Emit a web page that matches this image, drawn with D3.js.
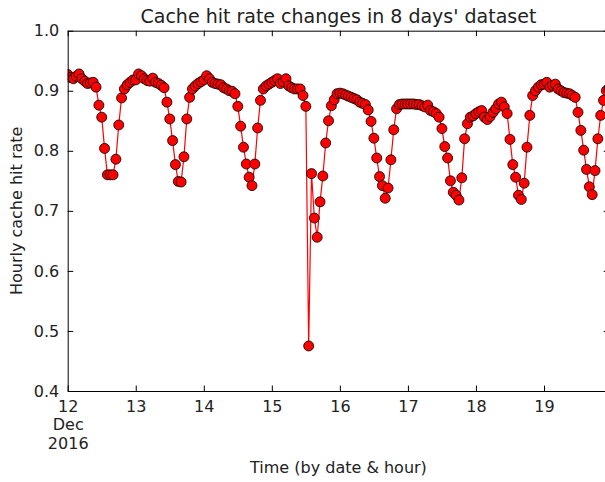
<!DOCTYPE html>
<html>
<head>
<meta charset="utf-8">
<script src="https://cdn.jsdelivr.net/npm/d3@7"></script>
<style>
  body { margin: 0; background: #fff; }
  svg { display: block; font-family: "DejaVu Sans", sans-serif; }
</style>
</head>
<body>
<svg width="605" height="482"></svg>
<script>
// hourly cache hit rate, one array per day (00:00 .. 23:00)
var dec12 = [0.927, 0.922, 0.920, 0.924, 0.928, 0.920, 0.916, 0.912, 0.913, 0.914, 0.906, 0.876,
             0.856, 0.804, 0.760, 0.760, 0.760, 0.786, 0.843, 0.888, 0.903, 0.910, 0.914, 0.918];
var dec13 = [0.918, 0.928, 0.925, 0.920, 0.917, 0.916, 0.921, 0.914, 0.912, 0.909, 0.905, 0.881,
             0.853, 0.817, 0.777, 0.749, 0.748, 0.790, 0.853, 0.889, 0.903, 0.908, 0.912, 0.915];
var dec14 = [0.918, 0.925, 0.920, 0.914, 0.912, 0.911, 0.910, 0.905, 0.903, 0.900, 0.899, 0.895,
             0.874, 0.841, 0.806, 0.778, 0.756, 0.742, 0.778, 0.838, 0.884, 0.903, 0.908, 0.911];
var dec15 = [0.914, 0.917, 0.920, 0.912, 0.915, 0.920, 0.908, 0.905, 0.903, 0.903, 0.903, 0.892,
             0.874, 0.475, 0.762, 0.688, 0.656, 0.715, 0.758, 0.813, 0.850, 0.875, 0.885, 0.895];
var dec16 = [0.896, 0.895, 0.893, 0.891, 0.889, 0.887, 0.885, 0.881, 0.879, 0.877, 0.868, 0.849,
             0.821, 0.788, 0.757, 0.742, 0.721, 0.738, 0.785, 0.835, 0.870, 0.877, 0.878, 0.878];
var dec17 = [0.878, 0.878, 0.878, 0.877, 0.877, 0.875, 0.873, 0.876, 0.867, 0.865, 0.862, 0.856,
             0.837, 0.807, 0.788, 0.750, 0.731, 0.726, 0.718, 0.755, 0.820, 0.845, 0.856, 0.858];
var dec18 = [0.862, 0.865, 0.867, 0.856, 0.852, 0.857, 0.864, 0.870, 0.878, 0.881, 0.873, 0.862,
             0.819, 0.777, 0.756, 0.726, 0.719, 0.746, 0.806, 0.859, 0.892, 0.900, 0.906, 0.910];
var dec19 = [0.911, 0.914, 0.906, 0.909, 0.911, 0.903, 0.900, 0.897, 0.896, 0.895, 0.892, 0.889,
             0.864, 0.834, 0.801, 0.769, 0.740, 0.727, 0.767, 0.820, 0.859, 0.884, 0.900, 0.905];

var yTicks = [0.4, 0.5, 0.6, 0.7, 0.8, 0.9, 1.0];
var title = "Cache hit rate changes in 8 days' dataset";
var xTitle = "Time (by date & hour)";
var yTitle = "Hourly cache hit rate";

var days = [dec12, dec13, dec14, dec15, dec16, dec17, dec18, dec19];
var start = new Date(2016, 11, 12);

var data = [];
days.forEach(function(day, i) {
  day.forEach(function(v, h) {
    data.push({ date: d3.timeHour.offset(start, i * 24 + h), rate: v });
  });
});

var margins = { top: 30.7, right: 605 - 609.2, bottom: 482 - 391, left: 67.7 },
    width = 609.2 - 67.7,
    height = 391 - 30.7;

var svg = d3.select('svg');
var g = svg.append('g')
  .attr('transform', 'translate(' + margins.left + ',' + margins.top + ')');

var x = d3.scaleTime()
  .domain(d3.extent(data, function(d) { return d.date; }))
  .range([0, width]);
var y = d3.scaleLinear().domain([0.4, 1.0]).range([height, 0]);

svg.append('defs').append('clipPath').attr('id', 'plot')
  .append('rect').attr('width', width).attr('height', height);

var line = d3.line()
  .x(function(d) { return x(d.date); })
  .y(function(d) { return y(d.rate); });

var plot = g.append('g').attr('clip-path', 'url(#plot)');

plot.append('path')
  .datum(data)
  .attr('d', line)
  .attr('fill', 'none')
  .attr('stroke', '#ff0000')
  .attr('stroke-width', 1.2);

plot.selectAll('circle')
  .data(data)
  .enter().append('circle')
  .attr('cx', function(d) { return x(d.date); })
  .attr('cy', function(d) { return y(d.rate); })
  .attr('r', 5)
  .attr('fill', '#ff0000')
  .attr('stroke', '#000')
  .attr('stroke-width', 0.8);

var dayTicks = d3.timeDay.range(start, d3.timeDay.offset(start, 8));
var tickLen = -5.5;

// axes, ticks pointing inwards like the classic matplotlib style
var xAxis = g.append('g')
  .attr('transform', 'translate(0,' + height + ')')
  .call(d3.axisBottom(x).tickValues(dayTicks).tickFormat(d3.timeFormat('%-d'))
    .tickSizeInner(tickLen).tickSizeOuter(0).tickPadding(9.5));

g.append('g')
  .call(d3.axisTop(x).tickValues(dayTicks).tickFormat('')
    .tickSizeInner(tickLen).tickSizeOuter(0));

g.append('g')
  .call(d3.axisLeft(y).tickValues(yTicks).tickFormat(d3.format('.1f'))
    .tickSizeInner(tickLen).tickSizeOuter(0).tickPadding(8.4));

g.append('g')
  .attr('transform', 'translate(' + width + ',0)')
  .call(d3.axisRight(y).tickValues(yTicks).tickFormat('')
    .tickSizeInner(tickLen).tickSizeOuter(0));

g.selectAll('.domain').attr('stroke', '#000').attr('stroke-width', 1);
g.selectAll('.tick line').attr('stroke', '#000').attr('stroke-width', 1);
g.selectAll('.tick text')
  .attr('fill', '#222')
  .style('font-family', '"DejaVu Sans", sans-serif')
  .style('font-size', '16px');

// month and year under the first date
var first = xAxis.select('.tick text');
first.append('tspan').attr('x', 0).attr('dy', '1.15em').text('Dec');
first.append('tspan').attr('x', 0).attr('dy', '1.15em').text('2016');

svg.append('text')
  .attr('x', margins.left + width / 2)
  .attr('y', 23)
  .attr('text-anchor', 'middle')
  .attr('fill', '#222')
  .style('font-size', '19px')
  .text(title);

svg.append('text')
  .attr('x', margins.left + width / 2)
  .attr('y', 473)
  .attr('text-anchor', 'middle')
  .attr('fill', '#222')
  .style('font-size', '16px')
  .text(xTitle);

svg.append('text')
  .attr('transform', 'translate(22,' + (margins.top + height / 2) + ') rotate(-90)')
  .attr('text-anchor', 'middle')
  .attr('fill', '#222')
  .style('font-size', '16px')
  .text(yTitle);
</script>
</body>
</html>
